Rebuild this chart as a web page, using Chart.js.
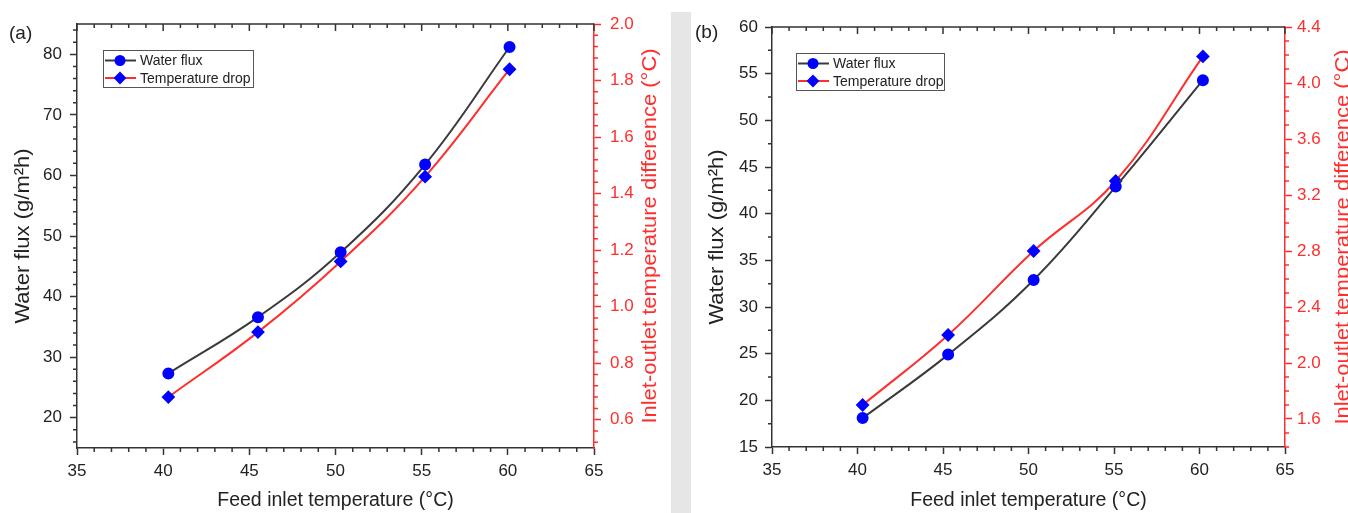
<!DOCTYPE html>
<html>
<head>
<meta charset="utf-8">
<script src="https://cdn.jsdelivr.net/npm/chart.js@4.4.1/dist/chart.umd.min.js"></script>
<style>
html, body { margin: 0; padding: 0; background: #fff; }
#wrap { position: relative; width: 1348px; height: 513px; overflow: hidden; }
#ca { position: absolute; left: 0; top: 0; }
#cb { position: absolute; left: 691px; top: 0; }
#strip { position: absolute; left: 671px; top: 12px; width: 20px; height: 501px; background: #e6e6e6; }
.tag { position: absolute; font: 19px "Liberation Sans", Arial, sans-serif; color: #222; }
</style>
</head>
<body>
<div id="wrap">
  <canvas id="ca" width="671" height="513"></canvas>
  <div id="strip"></div>
  <canvas id="cb" width="657" height="513"></canvas>
  <div class="tag" style="left:9px;top:22px">(a)</div>
  <div class="tag" style="left:695px;top:21px">(b)</div>
</div>
<script>
// panel (a)
const tempA = [40.3, 45.5, 50.3, 55.2, 60.1];
const fluxA = [27.3, 36.6, 47.3, 61.8, 81.2];
const dropA = [0.68, 0.91, 1.16, 1.46, 1.84];
// panel (b)
const tempB = [40.3, 45.3, 50.3, 55.1, 60.2];
const fluxB = [18.1, 24.9, 32.9, 42.9, 54.3];
const dropB = [1.70, 2.20, 2.80, 3.30, 4.19];

// tick labels
const xTicks = [35, 40, 45, 50, 55, 60, 65];
const fluxTicksA = [20, 30, 40, 50, 60, 70, 80];
const dropTicksA = [0.6, 0.8, 1.0, 1.2, 1.4, 1.6, 1.8, 2.0];
const fluxTicksB = [15, 20, 25, 30, 35, 40, 45, 50, 55, 60];
const dropTicksB = [1.6, 2.0, 2.4, 2.8, 3.2, 3.6, 4.0, 4.4];

const seriesNames = ['Water flux', 'Temperature drop'];
const xTitle = 'Feed inlet temperature (°C)';
const yTitle = 'Water flux (g/m²h)';
const y2Title = 'Inlet-outlet temperature difference (°C)';

const FONT = '"Liberation Sans", Arial, sans-serif';
const AXIS = '#333';
const RED = '#ff2e2e';
const BLUE = '#0000ff';
const TXT = '#222';

function pts(xs, ys) {
    return xs.map((x, i) => ({ x: x, y: ys[i] }));
}

// call fn for every step between min and max, flag the major ones
function eachTick(scale, step, major, fn) {
    const k0 = Math.ceil(scale.min / step - 1e-9);
    const k1 = Math.floor(scale.max / step + 1e-9);
    for (let k = k0; k <= k1; k++) {
        const v = k * step;
        const r = v / major;
        fn(scale.getPixelForValue(v), Math.abs(r - Math.round(r)) < 1e-6);
    }
}

// vertical title reading bottom to top, a little stretched like the original
function sideTitle(ctx, text, x, y, color) {
    ctx.save();
    ctx.translate(x, y);
    ctx.rotate(-Math.PI / 2);
    ctx.scale(1.1, 1);
    ctx.fillStyle = color;
    ctx.font = '20px ' + FONT;
    ctx.textAlign = 'center';
    ctx.textBaseline = 'middle';
    ctx.fillText(text, 0, 0);
    ctx.restore();
}

// minor ticks, top frame, side titles and the legend box
const framePlugin = {
    id: 'frame',
    afterDraw(chart, args, o) {
        const ctx = chart.ctx, a = chart.chartArea;
        const sx = chart.scales.x, sy = chart.scales.y, sy2 = chart.scales.y2;
        ctx.save();
        ctx.lineWidth = 1.5;
        ctx.strokeStyle = AXIS;
        ctx.beginPath();
        ctx.moveTo(a.left, a.top);
        ctx.lineTo(a.right, a.top);
        eachTick(sx, 1, 5, (px, major) => {
            ctx.moveTo(px, a.top);
            ctx.lineTo(px, a.top + (major ? 7 : 4));
            if (!major) {
                ctx.moveTo(px, a.bottom);
                ctx.lineTo(px, a.bottom + 4);
            }
        });
        eachTick(sy, o.yMinor, o.yMajor, (py, major) => {
            if (!major) {
                ctx.moveTo(a.left, py);
                ctx.lineTo(a.left - 4, py);
            }
        });
        ctx.stroke();

        ctx.strokeStyle = RED;
        ctx.beginPath();
        eachTick(sy2, o.y2Minor, o.y2Major, (py, major) => {
            if (!major) {
                ctx.moveTo(a.right, py);
                ctx.lineTo(a.right + 4, py);
            }
        });
        ctx.stroke();

        const midY = (a.top + a.bottom) / 2;
        sideTitle(ctx, yTitle, o.yTitleX, midY, TXT);
        sideTitle(ctx, y2Title, o.y2TitleX, midY, RED);

        // legend
        const lg = o.legend;
        ctx.fillStyle = '#fff';
        ctx.fillRect(lg.x, lg.y, lg.w, lg.h);
        ctx.strokeStyle = '#555';
        ctx.lineWidth = 1;
        ctx.strokeRect(lg.x + 0.5, lg.y + 0.5, lg.w, lg.h);
        chart.data.datasets.forEach((ds, i) => {
            const cy = lg.y + 10.5 + i * 17.5;
            ctx.strokeStyle = ds.borderColor;
            ctx.lineWidth = 2;
            ctx.beginPath();
            ctx.moveTo(lg.x + 2, cy);
            ctx.lineTo(lg.x + 33, cy);
            ctx.stroke();
            ctx.fillStyle = BLUE;
            ctx.strokeStyle = BLUE;
            Chart.helpers.drawPoint(ctx, { pointStyle: ds.pointStyle, radius: ds.pointStyle === 'circle' ? 4.5 : 5, borderWidth: 1 }, lg.x + 17, cy);
            ctx.fillStyle = TXT;
            ctx.font = '14px ' + FONT;
            ctx.textAlign = 'left';
            ctx.textBaseline = 'middle';
            ctx.fillText(ds.label, lg.x + 37, cy + 1);
        });
        ctx.restore();
    }
};

function makeChart(id, c) {
    const fixed = list => scale => { scale.ticks = list.map(v => ({ value: v })); };
    return new Chart(document.getElementById(id), {
        type: 'line',
        data: {
            datasets: [{
                label: seriesNames[0],
                data: pts(c.temp, c.flux),
                yAxisID: 'y',
                borderColor: '#3a3a3a',
                borderWidth: 2,
                pointStyle: 'circle',
                pointRadius: 5,
                pointBackgroundColor: BLUE,
                pointBorderColor: BLUE,
                tension: 0.4
            }, {
                label: seriesNames[1],
                data: pts(c.temp, c.drop),
                yAxisID: 'y2',
                borderColor: RED,
                borderWidth: 2,
                pointStyle: 'rectRot',
                pointRadius: 5.5,
                pointBackgroundColor: BLUE,
                pointBorderColor: BLUE,
                tension: 0.4
            }]
        },
        plugins: [framePlugin],
        options: {
            responsive: false,
            animation: false,
            layout: { padding: { top: c.top, left: 0, right: 0, bottom: 0 } },
            plugins: {
                legend: { display: false },
                tooltip: { enabled: false },
                frame: {
                    yMinor: c.yMinor, yMajor: c.yMajor,
                    y2Minor: c.y2Minor, y2Major: c.y2Major,
                    yTitleX: c.yTitleX, y2TitleX: c.y2TitleX,
                    legend: c.legend
                }
            },
            scales: {
                x: {
                    type: 'linear', min: 35, max: 65,
                    afterBuildTicks: fixed(xTicks),
                    afterFit: s => { s.height = 513 - c.top - c.plotH; },
                    ticks: { font: { family: FONT, size: 17 }, color: TXT, padding: 6 },
                    grid: { drawOnChartArea: false, tickLength: 7, tickWidth: 1.5, color: AXIS },
                    border: { color: AXIS, width: 1.5 },
                    title: { display: true, text: xTitle, color: TXT, font: { family: FONT, size: 19.5 }, padding: { top: 0, bottom: 1 } }
                },
                y: {
                    position: 'left', min: c.yMin, max: c.yMax,
                    afterBuildTicks: fixed(c.yTicks),
                    afterFit: s => { s.width = c.leftW; },
                    ticks: { font: { family: FONT, size: 17 }, color: TXT, padding: c.yPad },
                    grid: { drawOnChartArea: false, tickLength: 7, tickWidth: 1.5, color: AXIS },
                    border: { color: AXIS, width: 1.5 }
                },
                y2: {
                    position: 'right', min: c.y2Min, max: c.y2Max,
                    afterBuildTicks: fixed(c.y2Ticks),
                    afterFit: s => { s.width = c.rightW; },
                    ticks: { font: { family: FONT, size: 17 }, color: RED, padding: c.y2Pad, callback: v => v.toFixed(1) },
                    grid: { drawOnChartArea: false, tickLength: 7, tickWidth: 1.5, color: RED },
                    border: { color: RED, width: 1.5 }
                }
            }
        }
    });
}

makeChart('ca', {
    temp: tempA, flux: fluxA, drop: dropA,
    top: 24, plotH: 424, leftW: 77, rightW: 77,
    yMin: 15, yMax: 85, yTicks: fluxTicksA, yMinor: 2, yMajor: 10, yPad: 8,
    y2Min: 0.5, y2Max: 2.0, y2Ticks: dropTicksA, y2Minor: 0.04, y2Major: 0.2, y2Pad: 9,
    yTitleX: 23, y2TitleX: 650,
    legend: { x: 103, y: 50, w: 150, h: 37 }
});

makeChart('cb', {
    temp: tempB, flux: fluxB, drop: dropB,
    top: 27, plotH: 420, leftW: 81, rightW: 63,
    yMin: 15, yMax: 60, yTicks: fluxTicksB, yMinor: 2.5, yMajor: 5, yPad: 7,
    y2Min: 1.4, y2Max: 4.4, y2Ticks: dropTicksB, y2Minor: 0.1, y2Major: 0.4, y2Pad: 5,
    yTitleX: 26, y2TitleX: 652,
    legend: { x: 105, y: 53, w: 148, h: 37 }
});
</script>
</body>
</html>
